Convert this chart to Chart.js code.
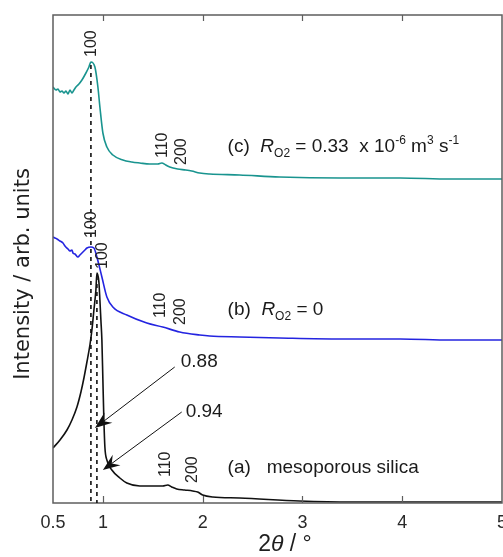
<!DOCTYPE html>
<html>
<head>
<meta charset="utf-8">
<script src="https://cdn.jsdelivr.net/npm/chart.js@4"></script>
<style>
  html, body { margin: 0; padding: 0; background: #fff; }
  #wrap { width: 503px; height: 557px; }
</style>
</head>
<body>
<div id="wrap"><canvas id="c" width="503" height="557"></canvas></div>
<script>
// ---------- data (2θ in degrees, intensity in arbitrary units) ----------
const twoThetaC = [0.50,0.53,0.55,0.57,0.59,0.61,0.63,0.65,0.67,0.69,0.71,0.73,0.76,0.79,0.83,0.86,0.88,0.92,0.95,0.97,1.00,1.04,1.10,1.20,1.29,1.37,1.47,1.55,1.59,1.63,1.67,1.75,1.83,1.89,1.97,2.07,2.37,2.77,3.38,3.98,4.48,5.00];
const intensityC = [416,413,414,411,412,410,412,409,413,410,413,416,419,423,430,436,441,436,416,396,370,356,348,343,341,340,339,339,340,338,336,334,333,332,330,329,328,326,325,325,324,324];

const twoThetaB = [0.50,0.52,0.54,0.57,0.60,0.62,0.65,0.67,0.69,0.70,0.72,0.75,0.77,0.79,0.82,0.84,0.88,0.91,0.94,0.99,1.04,1.10,1.24,1.44,1.60,1.77,1.97,2.07,2.37,2.77,3.38,3.98,4.48,5.00];
const intensityB = [266,265,264,262,260,257,254,252,253,250,249,246,248,250,253,255,256,255,246,226,206,196,188,180,176,171,168,167,166,165,164,164,163,163];

const twoThetaA = [0.50,0.57,0.64,0.69,0.74,0.78,0.81,0.84,0.87,0.89,0.91,0.93,0.94,0.96,0.97,0.98,0.99,1.00,1.01,1.02,1.04,1.09,1.17,1.24,1.37,1.50,1.60,1.65,1.69,1.74,1.82,1.90,1.95,2.00,2.10,2.37,2.97,3.50,3.98,4.50,5.00];
const intensityA = [55,63,73,83,96,111,125,141,158,173,193,213,230,221,203,183,163,123,83,56,43,33,25,20,17,17,17,18,16,14,13,12,11,8,6,5,2,1,1,1,1];

const xTickValues = [0.5, 1, 2, 3, 4, 5];

// peak positions (2θ) marked with dashed lines, and the curve heights they start from
const peakDashX   = [0.88, 0.94];
const peakDashTop = [441, 230];

// Miller-index labels: [text, 2θ, intensity at label bottom]
const hklText  = ['100','110','200', '100','110','200', '100','110','200'];
const hklX     = [0.89, 1.60, 1.79,  0.89, 1.58, 1.78,  1.00, 1.63, 1.90];
const hklY     = [446,  345,  338,   265,  185,  178,   234,  26,   20];

// sample captions
const captionX = [2.25, 2.25, 2.25];
const captionY = [351, 188, 30];

// arrow callouts: label, label position, tip position
const calloutText = ['0.88', '0.94'];
const calloutLabelX = [1.75, 1.80];
const calloutLabelY = [136, 86];
const calloutFromX = [1.72, 1.79];
const calloutFromY = [136, 91];
const calloutTipX = [0.92, 1.00];
const calloutTipY = [75, 33];

const FONT = '"Liberation Sans", Arial, sans-serif';

function pairs(xs, ys) { return xs.map((x, i) => ({ x, y: ys[i] })); }

function drawRich(ctx, parts, x, y) {
  let cx = x;
  for (const p of parts) {
    ctx.font = (p.italic ? 'italic ' : '') + p.size + 'px ' + FONT;
    ctx.fillText(p.t, cx, y + (p.dy || 0));
    cx += ctx.measureText(p.t).width;
  }
}

function drawArrow(ctx, x1, y1, x2, y2) {
  const ang = Math.atan2(y2 - y1, x2 - x1);
  const L = 17, W = 6.5, notch = 11;
  ctx.beginPath();
  ctx.moveTo(x1, y1);
  ctx.lineTo(x2 - Math.cos(ang) * notch, y2 - Math.sin(ang) * notch);
  ctx.lineWidth = 1;
  ctx.strokeStyle = '#111';
  ctx.stroke();
  ctx.save();
  ctx.translate(x2, y2);
  ctx.rotate(ang);
  ctx.beginPath();
  ctx.moveTo(0, 0);
  ctx.lineTo(-L, -W);
  ctx.lineTo(-notch, 0);
  ctx.lineTo(-L, W);
  ctx.closePath();
  ctx.fillStyle = '#111';
  ctx.fill();
  ctx.restore();
}

const decorPlugin = {
  id: 'decor',
  afterDatasetsDraw(chart) {
    const { ctx, chartArea: a, scales: { x, y } } = chart;
    ctx.save();

    // frame
    ctx.strokeStyle = '#5e5e5e';
    ctx.lineWidth = 1.5;
    ctx.strokeRect(a.left, a.top, a.right - a.left, a.bottom - a.top);

    // inward tick marks
    ctx.lineWidth = 1.2;
    for (const t of [1, 2, 3, 4]) {
      const px = Math.round(x.getPixelForValue(t)) + 0.5;
      ctx.beginPath();
      ctx.moveTo(px, a.bottom); ctx.lineTo(px, a.bottom - 7);
      ctx.moveTo(px, a.top); ctx.lineTo(px, a.top + 6);
      ctx.stroke();
    }

    // dashed peak lines
    ctx.setLineDash([4, 4]);
    ctx.strokeStyle = '#111';
    ctx.lineWidth = 1.6;
    peakDashX.forEach((v, i) => {
      const px = x.getPixelForValue(v);
      ctx.beginPath();
      ctx.moveTo(px, y.getPixelForValue(peakDashTop[i]) + 3);
      ctx.lineTo(px, a.bottom);
      ctx.stroke();
    });
    ctx.setLineDash([]);

    // hkl labels (rotated)
    ctx.fillStyle = '#222';
    ctx.font = '16px ' + FONT;
    ctx.textAlign = 'left';
    ctx.textBaseline = 'middle';
    hklText.forEach((t, i) => {
      ctx.save();
      ctx.translate(x.getPixelForValue(hklX[i]), y.getPixelForValue(hklY[i]));
      ctx.rotate(-Math.PI / 2);
      ctx.fillText(t, 0, 0);
      ctx.restore();
    });

    // captions
    ctx.textBaseline = 'alphabetic';
    ctx.fillStyle = '#1a1a1a';
    const S = 19, s = 12;
    const capC = [
      { t: '(c)  ', size: S }, { t: 'R', size: S, italic: true }, { t: 'O2', size: s, dy: 5 },
      { t: ' = 0.33  x 10', size: S }, { t: '-6', size: s, dy: -8 },
      { t: ' m', size: S }, { t: '3', size: s, dy: -8 }, { t: ' s', size: S }, { t: '-1', size: s, dy: -8 }
    ];
    const capB = [
      { t: '(b)  ', size: S }, { t: 'R', size: S, italic: true }, { t: 'O2', size: s, dy: 5 },
      { t: ' = 0', size: S }
    ];
    const capA = [{ t: '(a)   mesoporous silica', size: S }];
    [capC, capB, capA].forEach((parts, i) => {
      drawRich(ctx, parts, x.getPixelForValue(captionX[i]), y.getPixelForValue(captionY[i]));
    });

    // callouts
    calloutText.forEach((t, i) => {
      ctx.font = '19px ' + FONT;
      ctx.fillStyle = '#1a1a1a';
      ctx.textAlign = 'left';
      ctx.fillText(t, x.getPixelForValue(calloutLabelX[i]) + 3, y.getPixelForValue(calloutLabelY[i]));
      drawArrow(ctx,
        x.getPixelForValue(calloutFromX[i]), y.getPixelForValue(calloutFromY[i]),
        x.getPixelForValue(calloutTipX[i]), y.getPixelForValue(calloutTipY[i]));
    });

    // axis titles
    ctx.fillStyle = '#1e1e1e';
    ctx.textAlign = 'center';
    ctx.textBaseline = 'middle';
    ctx.save();
    ctx.translate(24, (a.top + a.bottom) / 2 + 15);
    ctx.rotate(-Math.PI / 2);
    ctx.font = '21px "DejaVu Sans", sans-serif';
    ctx.fillText('Intensity / arb. units', 0, 0);
    ctx.restore();

    // x title: 2θ / °
    ctx.textAlign = 'left';
    ctx.textBaseline = 'alphabetic';
    const xt = [
      { t: '2', size: 23 }, { t: 'θ', size: 23, italic: true }, { t: ' / °', size: 23 }
    ];
    let w = 0;
    xt.forEach(p => { ctx.font = (p.italic ? 'italic ' : '') + p.size + 'px ' + FONT; w += ctx.measureText(p.t).width; });
    drawRich(ctx, xt, 285 - w / 2, 551);

    ctx.restore();
  }
};

const lineDs = (label, xs, ys, color) => ({
  label,
  data: pairs(xs, ys),
  borderColor: color,
  borderWidth: 1.6,
  pointRadius: 0,
  showLine: true,
  tension: 0,
  cubicInterpolationMode: 'monotone'
});

new Chart(document.getElementById('c'), {
  type: 'scatter',
  data: {
    datasets: [
      lineDs('(a) mesoporous silica', twoThetaA, intensityA, '#111111'),
      lineDs('(b) RO2 = 0', twoThetaB, intensityB, '#2424e0'),
      lineDs('(c) RO2 = 0.33 x 10-6 m3 s-1', twoThetaC, intensityC, '#19948f')
    ]
  },
  options: {
    responsive: false,
    animation: false,
    devicePixelRatio: 1,
    layout: { padding: { top: 15, right: 1, left: 0, bottom: 0 } },
    plugins: { legend: { display: false }, tooltip: { enabled: false } },
    scales: {
      x: {
        type: 'linear',
        min: 0.5, max: 5,
        grid: { display: false, drawTicks: false },
        border: { display: false },
        afterBuildTicks: s => { s.ticks = xTickValues.map(v => ({ value: v })); },
        afterFit: s => { s.height = 54; s.paddingLeft = 0; s.paddingRight = 0; },
        ticks: {
          autoSkip: false, maxRotation: 0, padding: 9,
          color: '#2a2a2a',
          font: { family: FONT, size: 18 },
          callback: v => (v === 0.5 ? '0.5' : String(v))
        },
        title: { display: false }
      },
      y: {
        type: 'linear',
        min: 0, max: 488,
        grid: { display: false, drawTicks: false },
        border: { display: false },
        ticks: { display: false },
        afterFit: s => { s.width = 53; s.paddingTop = 0; s.paddingBottom = 0; },
        title: { display: false }
      }
    }
  },
  plugins: [decorPlugin]
});
</script>
</body>
</html>
